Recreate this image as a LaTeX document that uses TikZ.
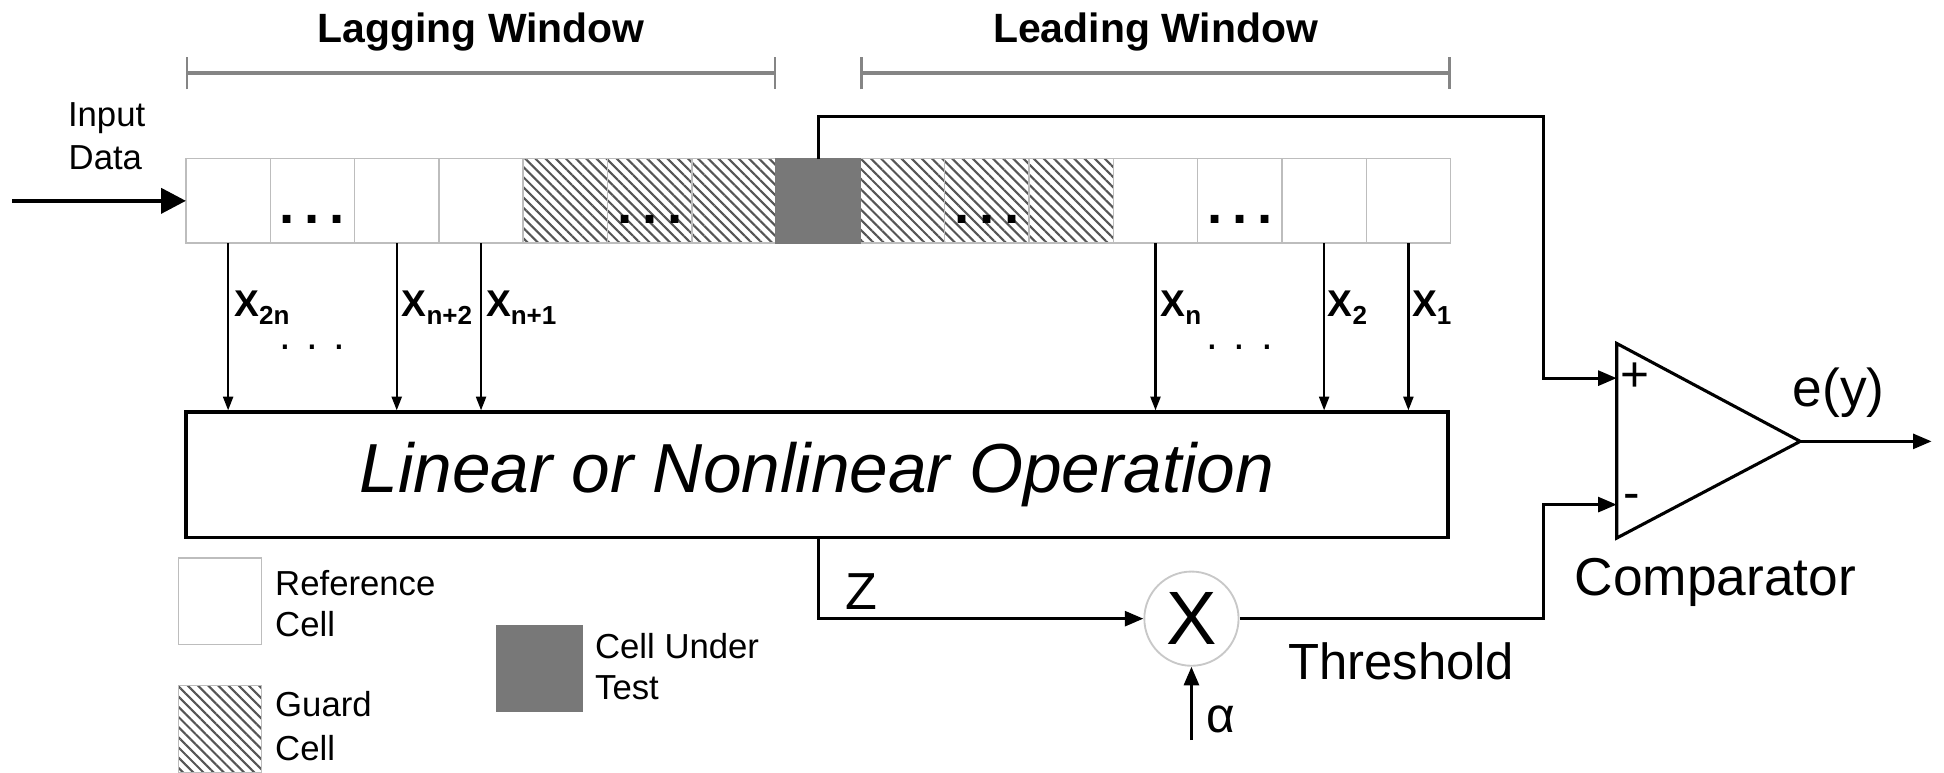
\documentclass[tikz,border=0pt]{standalone}
\usepackage{fontspec}
\setmainfont{Liberation Sans}
\usetikzlibrary{arrows.meta,patterns.meta}
\definecolor{cellgray}{HTML}{BDBDBD}
\definecolor{hatchgray}{HTML}{555555}
\definecolor{cutgray}{HTML}{787878}
\definecolor{bargray}{HTML}{858585}
\definecolor{circgray}{HTML}{C8C8C8}
\newcommand{\fsz}[1]{\fontsize{#1}{#1}\selectfont}
\newcommand{\xlab}[1]{\fsz{30}\bfseries X\raisebox{-6.5pt}{\fsz{21}#1}}
\newcommand{\celldots}{\fsz{44}\bfseries .\hspace{8pt}.\hspace{8pt}.}
\begin{document}
\begin{tikzpicture}[x=1pt,y=-1pt,
  refcell/.style={draw=cellgray, line width=1.2pt, fill=white, minimum width=68pt, minimum height=68pt, inner sep=0pt, outer sep=0pt},
  guardcell/.style={refcell, pattern={Lines[angle=-45,distance=5.8pt,line width=1.7pt]}, pattern color=hatchgray},
  cutcell/.style={refcell, draw=cutgray, fill=cutgray},
  conn/.style={line width=2.5pt, draw=black},
  arr/.style={-{Triangle[length=15pt,width=12pt]}},
  dn/.style={line width=1.8pt, -{Triangle[length=11pt,width=8pt]}},
  bracket/.style={draw=bargray, line width=3pt, {Bar[width=26pt,line width=2pt]}-{Bar[width=26pt,line width=2pt]}},
  txt/.style={inner sep=0pt, outer sep=0pt, anchor=base west},
  dotstxt/.style={inner sep=0pt, anchor=base, text height=5pt, text depth=0pt},
]
\useasboundingbox (0,0) rectangle (1568,623);

% cells
\foreach \i in {0,1,2,3,11,12,13,14} \node[refcell] (c\i) at (184+68*\i,162) {};
\foreach \i in {4,5,6,8,9,10} \node[guardcell] (c\i) at (184+68*\i,162) {};
\node[cutcell] (c7) at (660,162) {};
\foreach \i in {1,5,9,12} \node[dotstxt] at (184+68*\i,180) {\celldots};

% window brackets
\draw[bracket] (c0.west |- 0,59) -- (c7.west |- 0,59);
\draw[bracket] (c8.west |- 0,59) -- (c14.east |- 0,59);
\node[inner sep=0pt, anchor=base] (lag) at (388,34.5) {\fsz{33}\bfseries Lagging Window};
\node[inner sep=0pt, anchor=base] (lead) at (932,34.5) {\fsz{33}\bfseries Leading Window};

% input
\node[inner sep=0pt, anchor=base] (inp1) at (86,102) {\fsz{28}Input};
\node[inner sep=0pt, anchor=base] (inp2) at (85,137) {\fsz{28}Data};
\coordinate (inS) at (10,162);
\draw[line width=3.5pt, -{Triangle[length=20pt,width=20pt]}] (inS) -- (c0.west);

% operation box
\node[draw, line width=3pt, minimum width=1018pt, minimum height=101pt, inner sep=0pt] (op) at (659,383)
  {\fsz{56}\itshape Linear or Nonlinear Operation};

% down arrows
\foreach \i in {0,2,3,11,13,14} \draw[dn] (c\i.south) -- (c\i.south |- op.north);
\node[txt] (l2n) at (189,255.5) {\xlab{2n}};
\node[txt] (ln2) at (324,255.5) {\xlab{n+2}};
\node[txt] (ln1) at (392,255.5) {\xlab{n+1}};
\node[txt] (ln) at (936,255.5) {\xlab{n}};
\node[txt] (l2) at (1071,255.5) {\xlab{2}};
\node[txt] (l1) at (1139,255.5) {\xlab{1}};
\node[dotstxt] (dl) at (252,282) {\fsz{34}. . .};
\node[dotstxt] (dr) at (1000,282) {\fsz{34}. . .};

% multiplier
\node[circle, draw=circgray, line width=1.5pt, minimum size=76pt, inner sep=0pt] (mul) at (961,499) {\fsz{61}X};
\draw[conn, arr] (c7.center |- op.south) |- (mul.west);
\node[txt] (zl) at (682,492) {\fsz{42}Z};
\coordinate (alS) at (961,597);
\draw[conn, arr] (alS) -- (mul.south);
\node[txt] (al) at (973,591) {\fsz{40}α};
\node[txt] (thr) at (1039,548) {\fsz{41}Threshold};

% comparator
\coordinate (ctop) at (1304,277);
\coordinate (cbot) at (1304,434);
\coordinate (capex) at (1452,356);
\coordinate (cplus) at (1304,305);
\coordinate (cminus) at (1304,407);
\coordinate (outE) at (1558,356);
\draw[conn, line join=miter] (ctop) -- (capex) -- (cbot) -- cycle;
\node (pl) at (1318.5,304) {\fsz{40}+};
\node (mi) at (1316,405) {\fsz{40}-};
\draw[conn, arr] (c7.north) |- (1245,94) |- (cplus);
\draw[conn, arr] (mul.east) -| (1245,407) -- (cminus);
\draw[conn, arr] (capex) -- (outE);
\node[txt] (ey) at (1446,328) {\fsz{43}e(y)};
\node[txt] (cmp) at (1270,480) {\fsz{43}Comparator};

% legend
\node[refcell, minimum width=67pt, minimum height=70pt] (lgR) at (177.5,485) {};
\node[txt] at (222,480) {\fsz{28}Reference};
\node[txt] at (222,513) {\fsz{28}Cell};
\node[guardcell, minimum width=67pt, minimum height=70pt] (lgG) at (177.5,588) {};
\node[txt] at (222,578) {\fsz{28}Guard};
\node[txt] at (222,613) {\fsz{28}Cell};
\node[cutcell, minimum width=69pt, minimum height=69pt] (lgC) at (435.5,539.5) {};
\node[txt] at (480,531) {\fsz{28}Cell Under};
\node[txt] at (480,564) {\fsz{28}Test};
\end{tikzpicture}
\end{document}
